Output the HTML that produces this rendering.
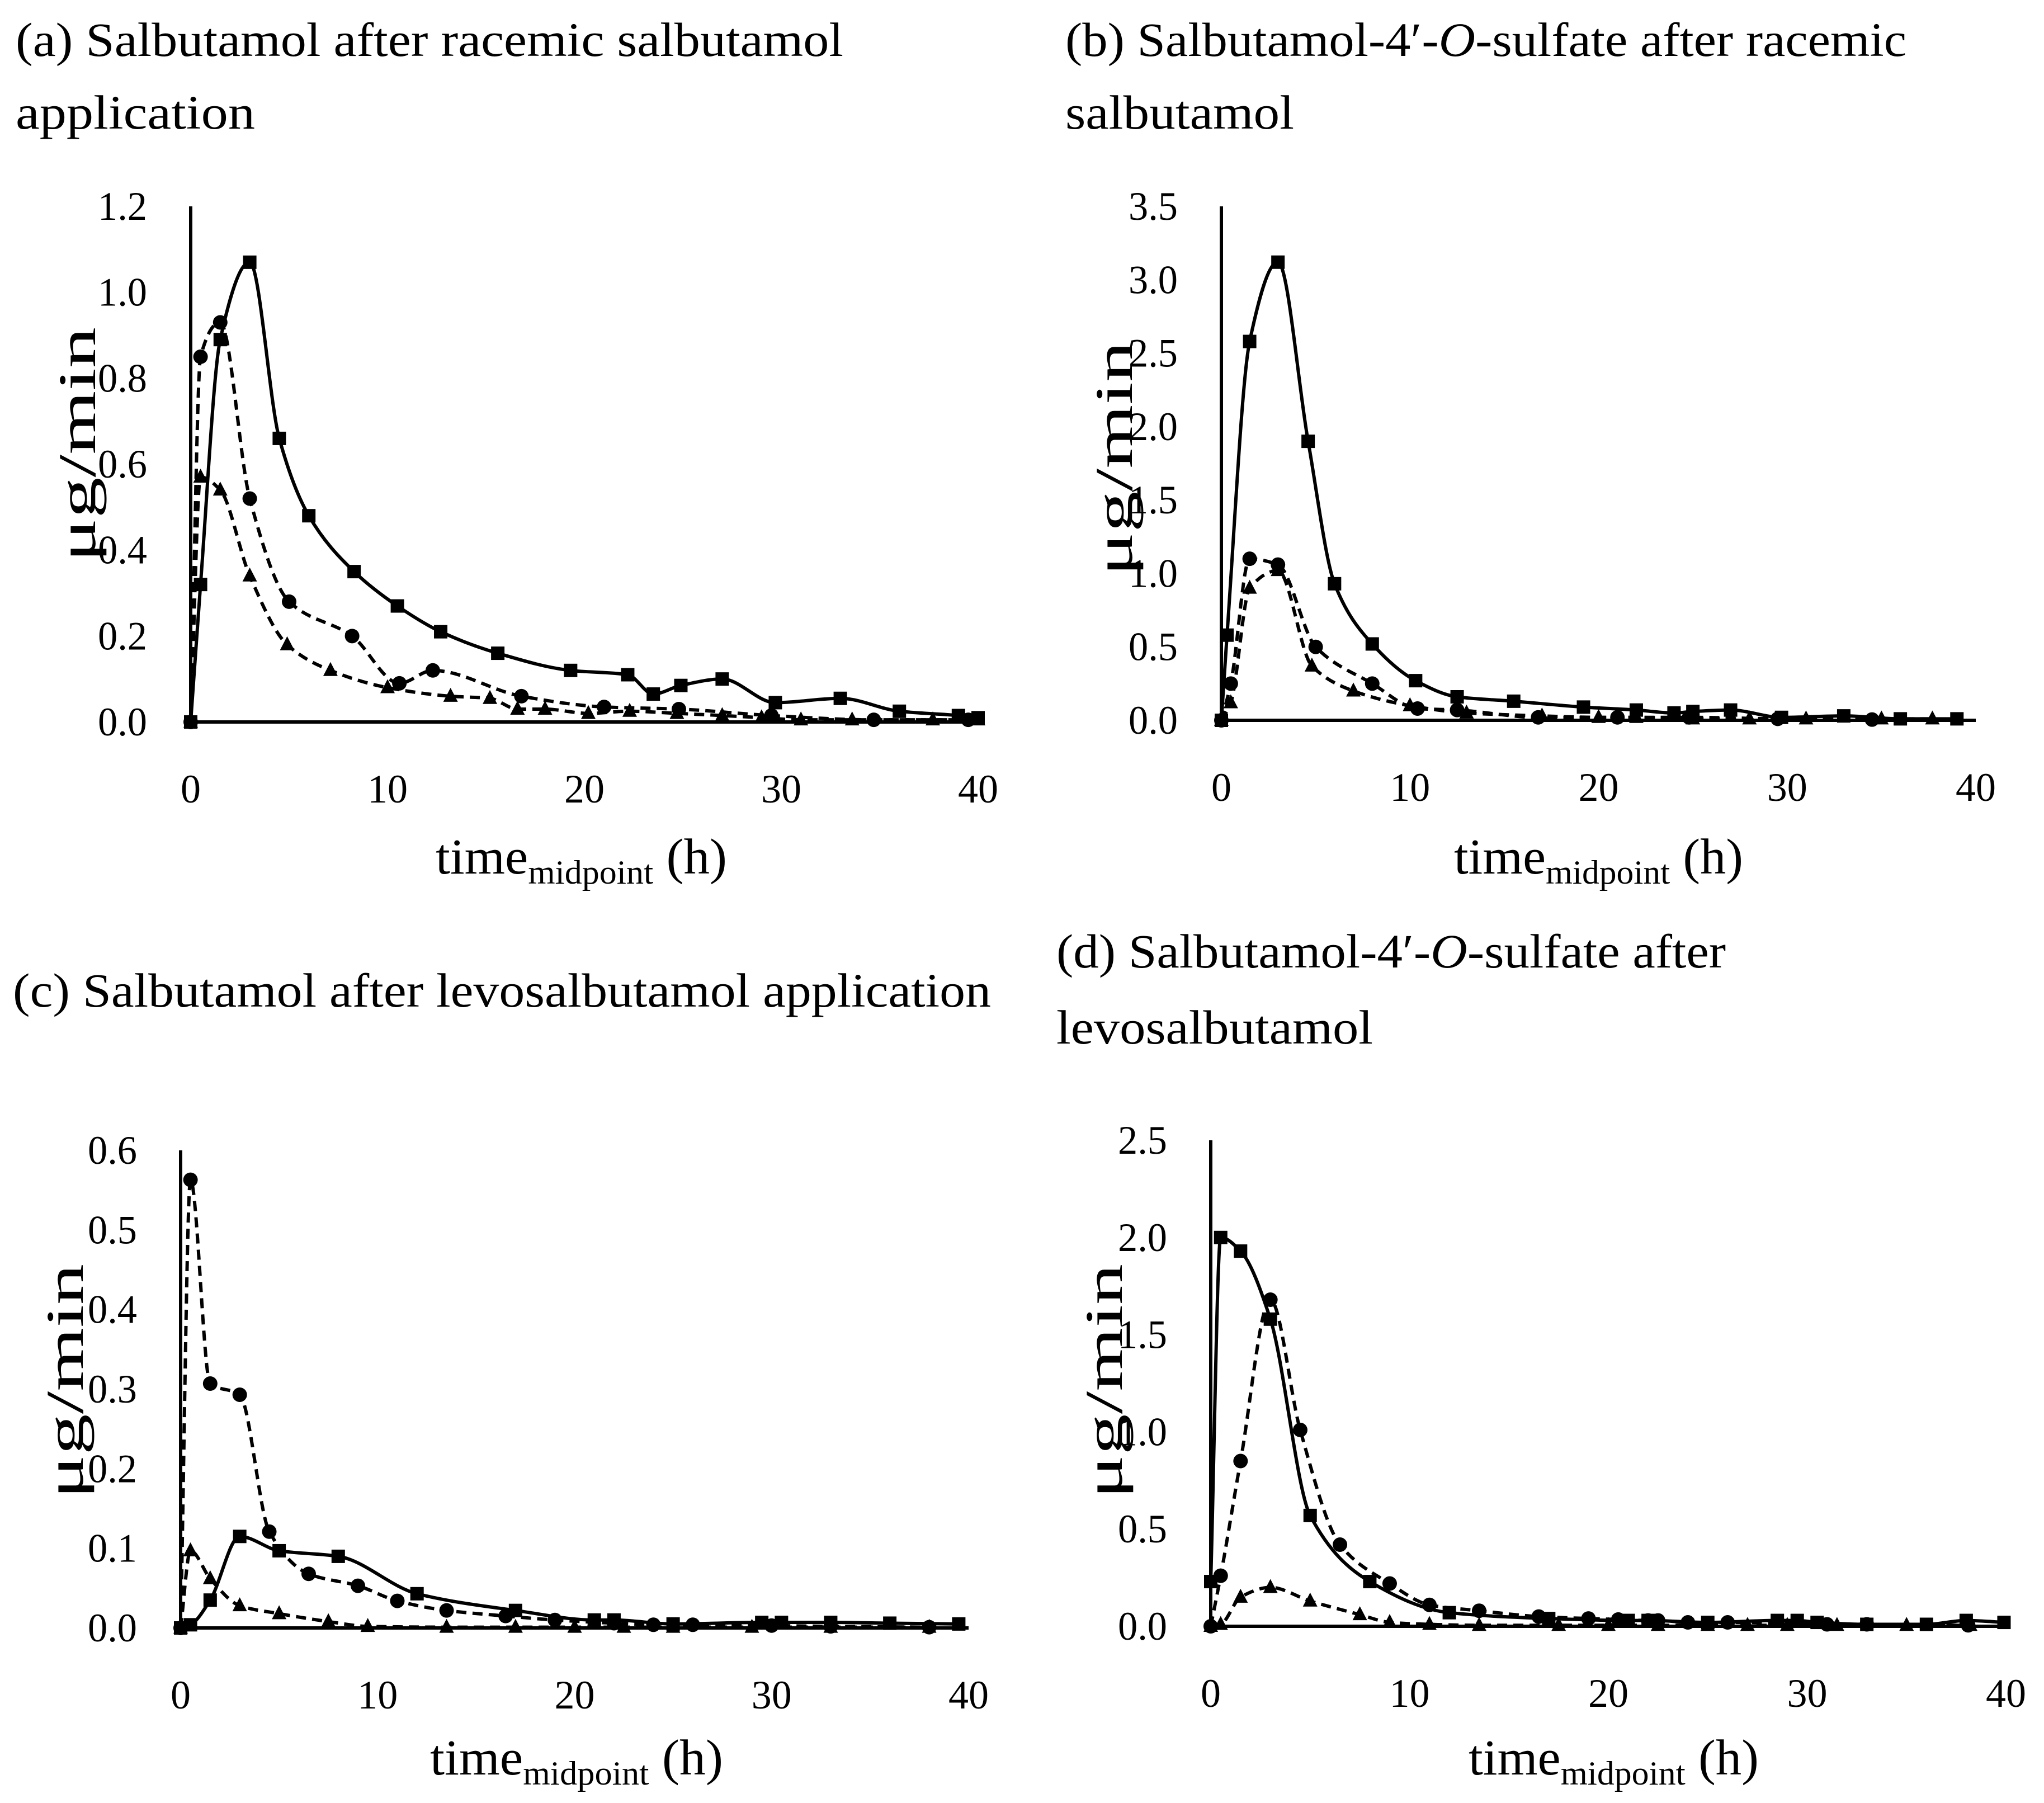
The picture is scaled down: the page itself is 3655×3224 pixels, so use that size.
<!DOCTYPE html>
<html><head><meta charset="utf-8"><style>
html,body{margin:0;padding:0;background:#fff;}
svg{display:block;}
text{font-family:"Liberation Serif",serif;fill:#000;}
</style></head><body>
<svg id="fig" width="3655" height="3224" viewBox="0 0 3655 3224" xmlns="http://www.w3.org/2000/svg">
<rect width="3655" height="3224" fill="#fff"/>
</svg>
<script>
// Panel (a)
const aSqX=[0,0.5,1.5,3,4.5,6,8.3,10.5,12.7,15.6,19.3,22.2,23.5,24.9,27,29.7,33,36,39,40];
const aSqY=[0,0.32,0.89,1.07,0.66,0.48,0.35,0.27,0.21,0.16,0.12,0.11,0.065,0.085,0.10,0.045,0.055,0.025,0.015,0.01];
const aCiX=[0,0.5,1.5,3,5,8.2,10.6,12.3,16.8,21,24.8,29.5,34.7,39.5];
const aCiY=[0,0.85,0.93,0.52,0.28,0.20,0.09,0.12,0.06,0.035,0.03,0.015,0.005,0.005];
const aTrX=[0,0.5,1.5,3,4.9,7.1,10,13.2,15.2,16.6,18,20.2,22.3,24.7,27,29,31,33.6,37.7,40];
const aTrY=[0,0.57,0.54,0.34,0.18,0.12,0.08,0.06,0.055,0.03,0.03,0.02,0.025,0.02,0.015,0.01,0.005,0.005,0.005,0.005];
const aYTicks=["0.0","0.2","0.4","0.6","0.8","1.0","1.2"];
// Panel (b)
const bSqX=[0,0.3,1.5,3,4.6,6,8,10.3,12.5,15.5,19.2,22,24,25,27,29.7,33,36,39];
const bSqY=[0,0.58,2.58,3.12,1.9,0.93,0.52,0.27,0.16,0.13,0.09,0.07,0.05,0.06,0.07,0.02,0.03,0.01,0.01];
const bCiX=[0,0.5,1.5,3,5,8,10.4,12.5,16.8,21,24.8,29.5,34.5];
const bCiY=[0,0.25,1.1,1.06,0.5,0.25,0.08,0.07,0.02,0.02,0.02,0.01,0.005];
const bTrX=[0,0.5,1.5,3,4.8,7,10,13,17,20,22,25,28,31,35,37.7];
const bTrY=[0,0.12,0.9,1.02,0.37,0.2,0.1,0.05,0.03,0.02,0.02,0.01,0.01,0.01,0.01,0.01];
const bYTicks=["0.0","0.5","1.0","1.5","2.0","2.5","3.0","3.5"];
// Panel (c)
const cSqX=[0,0.5,1.5,3,5,8,12,17,21,22,25,29.5,30.5,33,36,39.5];
const cSqY=[0,0.004,0.035,0.115,0.097,0.09,0.043,0.022,0.01,0.01,0.005,0.007,0.007,0.007,0.006,0.005];
const cCiX=[0,0.5,1.5,3,4.5,6.5,9,11,13.5,16.5,19,22,24,26,30,33,38];
const cCiY=[0,0.563,0.307,0.293,0.121,0.068,0.053,0.034,0.022,0.015,0.01,0.006,0.004,0.004,0.003,0.002,0.001];
const cTrX=[0,0.5,1.5,3,5,7.5,9.5,13.5,17,20,22.5,25,29,33,38];
const cTrY=[0,0.097,0.062,0.028,0.018,0.008,0.002,0.001,0.001,0.001,0.001,0.001,0.001,0.001,0.001];
const cYTicks=["0.0","0.1","0.2","0.3","0.4","0.5","0.6"];
// Panel (d)
const dSqX=[0,0.5,1.5,3,5,8,12,17,21,22,25,28.5,29.5,30.5,33,36,38,39.9];
const dSqY=[0.23,2.0,1.93,1.58,0.57,0.23,0.07,0.04,0.03,0.03,0.02,0.03,0.03,0.02,0.01,0.01,0.03,0.02];
const dCiX=[0,0.5,1.5,3,4.5,6.5,9,11,13.5,16.5,19,20.5,22,22.5,24,26,31,33,38.1];
const dCiY=[0,0.26,0.85,1.68,1.01,0.42,0.22,0.11,0.08,0.05,0.04,0.035,0.03,0.03,0.02,0.02,0.01,0.01,0.005];
const dTrX=[0,0.5,1.5,3,5,7.5,9,11,13.5,17.5,20,22.5,25,27,29,31.5,35,38.2];
const dTrY=[0,0.01,0.15,0.2,0.13,0.06,0.02,0.01,0.005,0.005,0.005,0.005,0.005,0.005,0.005,0.005,0.005,0.005];
const dYTicks=["0.0","0.5","1.0","1.5","2.0","2.5"];
const xTicks=["0","10","20","30","40"];

const NS="http://www.w3.org/2000/svg";
const svg=document.getElementById('fig');
function mk(tag,attrs,parent){const e=document.createElementNS(NS,tag);for(const k in attrs)e.setAttribute(k,attrs[k]);(parent||svg).appendChild(e);return e;}
function smooth(pts){
  // monotone cubic (Fritsch-Carlson) in screen coords
  const n=pts.length;
  const dx=[],dy=[],m=[];
  for(let i=0;i<n-1;i++){dx.push(pts[i+1][0]-pts[i][0]);dy.push(pts[i+1][1]-pts[i][1]);m.push(dx[i]?dy[i]/dx[i]:0);}
  const t=[m[0]];
  for(let i=1;i<n-1;i++){
    if(m[i-1]*m[i]<=0)t.push(0);
    else{const w1=2*dx[i]+dx[i-1],w2=dx[i]+2*dx[i-1];t.push((w1+w2)/(w1/m[i-1]+w2/m[i]));}
  }
  t.push(m[n-2]);
  let d="M"+pts[0][0]+","+pts[0][1];
  for(let i=0;i<n-1;i++){
    const h=dx[i]/3;
    d+=" C"+(pts[i][0]+h)+","+(pts[i][1]+t[i]*h)+" "+(pts[i+1][0]-h)+","+(pts[i+1][1]-t[i+1]*h)+" "+pts[i+1][0]+","+pts[i+1][1];
  }
  return d;
}
function panel(cfg){
  const g=mk('g',{});
  
  
  const ymax=parseFloat(cfg.yt[cfg.yt.length-1]);
  const sx=v=>cfg.x0+(cfg.x40-cfg.x0)*v/40;
  const sy=v=>cfg.y0-(cfg.y0-cfg.yTop)*v/ymax;
  cfg.title.forEach((t,i)=>{
    const e=mk('text',{x:cfg.tx,y:cfg.ty[i],'font-size':86},g);
    if(t.html){e.innerHTML=t.html;}else e.textContent=t.s;
    e.setAttribute('textLength',t.w);
    e.setAttribute('lengthAdjust','spacingAndGlyphs');
    
    
  });
  cfg.yt.forEach(t=>{
    const e=mk('text',{x:cfg.x0-78,y:sy(parseFloat(t))+24,'font-size':72,'text-anchor':'end',textLength:88,lengthAdjust:'spacingAndGlyphs'},g);
    e.textContent=t;
    
    
  });
  xTicks.forEach(t=>{
    const e=mk('text',{x:sx(parseFloat(t)),y:cfg.y0+144,'font-size':72,'text-anchor':'middle'},g);
    e.textContent=t;
    
    
  });
  const xl=mk('text',{x:cfg.xlx[0],y:cfg.xly,'font-size':90,textLength:cfg.xlx[1]-cfg.xlx[0],lengthAdjust:'spacingAndGlyphs'},g);
  xl.innerHTML='time<tspan font-size="60" dy="18">midpoint</tspan><tspan dy="-18"> (h)</tspan>';
  
  
  const yl=mk('text',{x:0,y:0,'font-size':95,'text-anchor':'middle',textLength:420,lengthAdjust:'spacingAndGlyphs',transform:`translate(${cfg.ylx},${cfg.yly}) rotate(-90)`},g);
  yl.textContent='μg/min';
  
  
  const ya=mk('line',{x1:cfg.x0,y1:cfg.yTop,x2:cfg.x0,y2:cfg.y0+3,stroke:'#000','stroke-width':6},g);
  
  
  const xa=mk('line',{x1:cfg.x0-3,y1:cfg.y0,x2:cfg.x40,y2:cfg.y0,stroke:'#000','stroke-width':6},g);
  
  
  const series=[
    {xs:cfg.tr[0],ys:cfg.tr[1],dash:'18 11',m:'tri',n:'triangle-series'},
    {xs:cfg.ci[0],ys:cfg.ci[1],dash:'18 11',m:'circ',n:'circle-series'},
    {xs:cfg.sq[0],ys:cfg.sq[1],dash:null,m:'sq',n:'square-series'}
  ];
  series.forEach(s=>{
    const sg=mk('g',{},g);
    
    
    const pts=s.xs.map((x,i)=>[sx(x),sy(s.ys[i])]);
    const p=mk('path',{d:smooth(pts),fill:'none',stroke:'#000','stroke-width':6},sg);
    if(s.dash)p.setAttribute('stroke-dasharray',s.dash);
    
    
    pts.forEach(q=>{
      let e;
      if(s.m==='sq')e=mk('rect',{x:q[0]-12,y:q[1]-12,width:24,height:24,fill:'#000'},sg);
      else if(s.m==='circ')e=mk('circle',{cx:q[0],cy:q[1],r:13,fill:'#000'},sg);
      else e=mk('polygon',{points:`${q[0]},${q[1]-15} ${q[0]-13},${q[1]+10} ${q[0]+13},${q[1]+10}`,fill:'#000'},sg);
      
      
    });
  });
}
panel({name:'panel-a',x0:341,x40:1749,y0:1291,yTop:369,yt:aYTicks,
  sq:[aSqX,aSqY],ci:[aCiX,aCiY],tr:[aTrX,aTrY],
  tx:28,ty:[100,230],title:[{s:'(a) Salbutamol after racemic salbutamol',w:1480},{s:'application',w:428}],
  xlx:[779,1300],xly:1562,ylx:170,yly:795});
panel({name:'panel-b',x0:2184,x40:3533,y0:1288,yTop:369,yt:bYTicks,
  sq:[bSqX,bSqY],ci:[bCiX,bCiY],tr:[bTrX,bTrY],
  tx:1905,ty:[100,230],title:[{html:'(b) Salbutamol-4′-<tspan font-style="italic">O</tspan>-sulfate after racemic',w:1504},{s:'salbutamol',w:409}],
  xlx:[2600,3117],xly:1562,ylx:2024,yly:820});
panel({name:'panel-c',x0:323,x40:1732,y0:2911,yTop:2057,yt:cYTicks,
  sq:[cSqX,cSqY],ci:[cCiX,cCiY],tr:[cTrX,cTrY],
  tx:23,ty:[1800],title:[{s:'(c) Salbutamol after levosalbutamol application',w:1749}],
  xlx:[769,1293],xly:3173,ylx:148,yly:2470});
panel({name:'panel-d',x0:2165,x40:3587,y0:2908,yTop:2039,yt:dYTicks,
  sq:[dSqX,dSqY],ci:[dCiX,dCiY],tr:[dTrX,dTrY],
  tx:1889,ty:[1730,1866],title:[{html:'(d) Salbutamol-4′-<tspan font-style="italic">O</tspan>-sulfate after',w:1197},{s:'levosalbutamol',w:566}],
  xlx:[2626,3145],xly:3173,ylx:2006,yly:2470});
</script>
</body></html>
